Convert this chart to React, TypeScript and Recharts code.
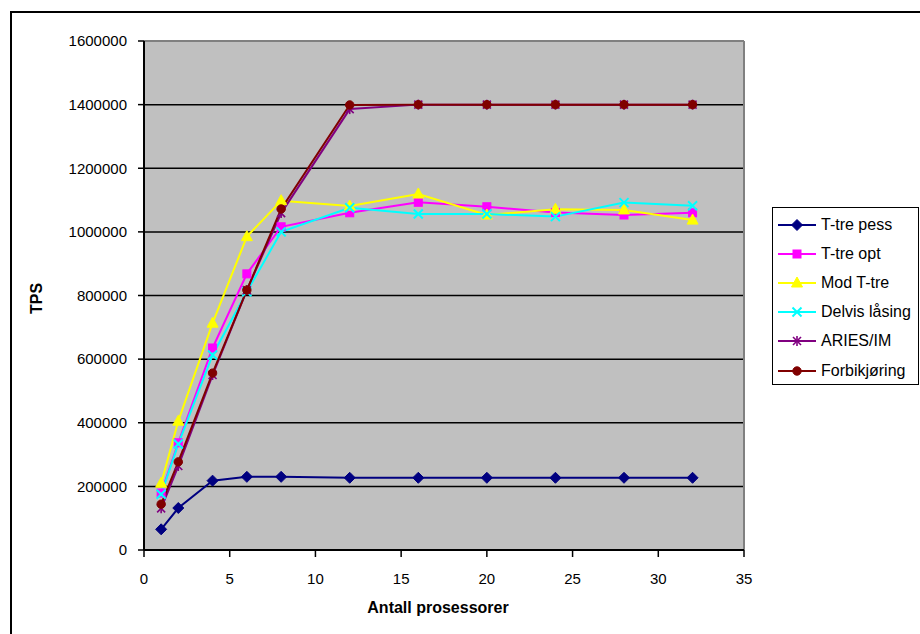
import React from 'react';
import { LineChart, Line, XAxis, YAxis, CartesianGrid, Legend, Label, ReferenceLine } from 'recharts';

const processors = [1, 2, 4, 6, 8, 12, 16, 20, 24, 28, 32];
const tTrePess = [65000, 132000, 218000, 230000, 230000, 227000, 227000, 227000, 227000, 227000, 227000];
const tTreOpt = [179000, 337000, 635000, 868000, 1016000, 1060000, 1093000, 1079000, 1061000, 1053000, 1060000];
const modTTre = [210000, 405000, 713000, 985000, 1098000, 1081000, 1119000, 1053000, 1071000, 1069000, 1037000];
const delvisLasing = [175000, 333000, 613000, 812000, 1000000, 1076000, 1056000, 1056000, 1048000, 1092000, 1082000];
const ariesIm = [131000, 264000, 550000, 817000, 1059000, 1386000, 1400000, 1400000, 1400000, 1400000, 1400000];
const forbikjoring = [144000, 277000, 556000, 817000, 1072000, 1399000, 1400000, 1400000, 1400000, 1400000, 1400000];

const xTicks = [0, 5, 10, 15, 20, 25, 30, 35];
const yTicks = [0, 200000, 400000, 600000, 800000, 1000000, 1200000, 1400000, 1600000];
const gridValues = [200000, 400000, 600000, 800000, 1000000, 1200000, 1400000];

type Kind = 'diamond' | 'square' | 'triangle' | 'x' | 'asterisk' | 'circle';

const series: { key: string; name: string; color: string; kind: Kind; values: number[] }[] = [
  { key: 'pess', name: 'T-tre pess', color: '#000080', kind: 'diamond', values: tTrePess },
  { key: 'opt', name: 'T-tre opt', color: '#FF00FF', kind: 'square', values: tTreOpt },
  { key: 'mod', name: 'Mod T-tre', color: '#FFFF00', kind: 'triangle', values: modTTre },
  { key: 'delvis', name: 'Delvis låsing', color: '#00FFFF', kind: 'x', values: delvisLasing },
  { key: 'aries', name: 'ARIES/IM', color: '#800080', kind: 'asterisk', values: ariesIm },
  { key: 'forbik', name: 'Forbikjøring', color: '#800000', kind: 'circle', values: forbikjoring },
];

const data = processors.map((p, i) => {
  const row: Record<string, number> = { p };
  series.forEach((s) => {
    row[s.key] = s.values[i];
  });
  return row;
});

const FONT = '"Liberation Sans", Arial, sans-serif';

function marker(kind: Kind, cx: number, cy: number, color: string, key?: string) {
  switch (kind) {
    case 'diamond':
      return (
        <polygon key={key} points={`${cx},${cy - 5.5} ${cx + 5.5},${cy} ${cx},${cy + 5.5} ${cx - 5.5},${cy}`} fill={color} stroke={color} />
      );
    case 'square':
      return <rect key={key} x={cx - 4} y={cy - 4} width={8} height={8} fill={color} stroke={color} />;
    case 'triangle':
      return <polygon key={key} points={`${cx},${cy - 6} ${cx + 5.5},${cy + 4} ${cx - 5.5},${cy + 4}`} fill={color} stroke={color} />;
    case 'x':
      return (
        <g key={key} stroke={color} strokeWidth={2}>
          <line x1={cx - 4.5} y1={cy - 4.5} x2={cx + 4.5} y2={cy + 4.5} />
          <line x1={cx - 4.5} y1={cy + 4.5} x2={cx + 4.5} y2={cy - 4.5} />
        </g>
      );
    case 'asterisk':
      return (
        <g key={key} stroke={color} strokeWidth={1.6}>
          <line x1={cx - 4} y1={cy - 4} x2={cx + 4} y2={cy + 4} />
          <line x1={cx - 4} y1={cy + 4} x2={cx + 4} y2={cy - 4} />
          <line x1={cx} y1={cy - 5} x2={cx} y2={cy + 5} />
        </g>
      );
    case 'circle':
    default:
      return <circle key={key} cx={cx} cy={cy} r={4.2} fill={color} stroke={color} />;
  }
}

const LegendBox = () => (
  <div
    style={{
      width: 147,
      height: 178,
      boxSizing: 'border-box',
      border: '1.5px solid #000',
      background: '#fff',
      paddingTop: 2,
    }}
  >
    {series.map((s) => (
      <div key={s.key} style={{ height: 29.2, display: 'flex', alignItems: 'center' }}>
        <svg width={40} height={14} style={{ flex: 'none', marginLeft: 4 }}>
          <line x1={1} y1={7} x2={39} y2={7} stroke={s.color} strokeWidth={2} />
          {marker(s.kind, 20, 7, s.color)}
        </svg>
        <span style={{ fontFamily: FONT, fontSize: 16, color: '#000', marginLeft: 4, whiteSpace: 'nowrap' }}>{s.name}</span>
      </div>
    ))}
  </div>
);

export default function App() {
  return (
    <div style={{ position: 'fixed', left: 0, top: 0, width: 920, height: 634, overflow: 'hidden', background: '#fff' }}>
      <div
        style={{
          position: 'absolute',
          left: 10,
          top: 11,
          width: 1000,
          height: 1000,
          border: '2px solid #000',
        }}
      />
      <div style={{ position: 'absolute', left: 0, top: 0 }}>
        <LineChart width={920} height={634} data={data} margin={{ top: 41, right: 176, left: 0, bottom: 0 }}>
          <CartesianGrid
            horizontal={true}
            vertical={false}
            fill="#C0C0C0"
            stroke="#000"
            strokeWidth={1.5}
            horizontalValues={gridValues}
          />
          <ReferenceLine y={1600000} stroke="#808080" strokeWidth={2} />
          <ReferenceLine x={35} stroke="#808080" strokeWidth={2} />
          <XAxis
            dataKey="p"
            type="number"
            domain={[0, 35]}
            ticks={xTicks}
            interval={0}
            height={84}
            tickSize={7}
            tickMargin={16}
            axisLine={{ stroke: '#000', strokeWidth: 2 }}
            tickLine={{ stroke: '#000', strokeWidth: 1.5 }}
            tick={{ fill: '#000', fontSize: 15, fontFamily: FONT }}
          >
            <Label
              content={(props: any) => {
                const vb = props.viewBox || { x: 144, y: 550, width: 600 };
                return (
                  <text x={vb.x + 294} y={vb.y + 63} textAnchor="middle" fontFamily={FONT} fontSize={16} fontWeight="bold" fill="#000">
                    Antall prosessorer
                  </text>
                );
              }}
            />
          </XAxis>
          <YAxis
            type="number"
            domain={[0, 1600000]}
            ticks={yTicks}
            interval={0}
            width={144}
            tickSize={6}
            tickMargin={11}
            axisLine={{ stroke: '#000', strokeWidth: 2 }}
            tickLine={{ stroke: '#000', strokeWidth: 1.5 }}
            tick={{ fill: '#000', fontSize: 15, fontFamily: FONT }}
          >
            <Label
              content={(props: any) => {
                const vb = props.viewBox || { x: 0, y: 41, height: 509 };
                const cx = vb.x + 36.5;
                const cy = vb.y + vb.height / 2 + 3;
                return (
                  <text
                    x={cx}
                    y={cy}
                    transform={`rotate(-90, ${cx}, ${cy})`}
                    textAnchor="middle"
                    dominantBaseline="central"
                    fontFamily={FONT}
                    fontSize={16}
                    fontWeight="bold"
                    fill="#000"
                  >
                    TPS
                  </text>
                );
              }}
            />
          </YAxis>
          <Legend
            layout="vertical"
            align="center"
            verticalAlign="middle"
            content={() => <LegendBox />}
            wrapperStyle={{ left: 772, top: 207, right: 'auto', bottom: 'auto', width: 147, height: 178 }}
          />
          {series.map((s) => (
            <Line
              key={s.key}
              dataKey={s.key}
              name={s.name}
              stroke={s.color}
              strokeWidth={2}
              isAnimationActive={false}
              dot={(props: any) => marker(s.kind, props.cx, props.cy, s.color, `${s.key}-${props.index}`)}
              activeDot={false}
            />
          ))}
        </LineChart>
      </div>
    </div>
  );
}
